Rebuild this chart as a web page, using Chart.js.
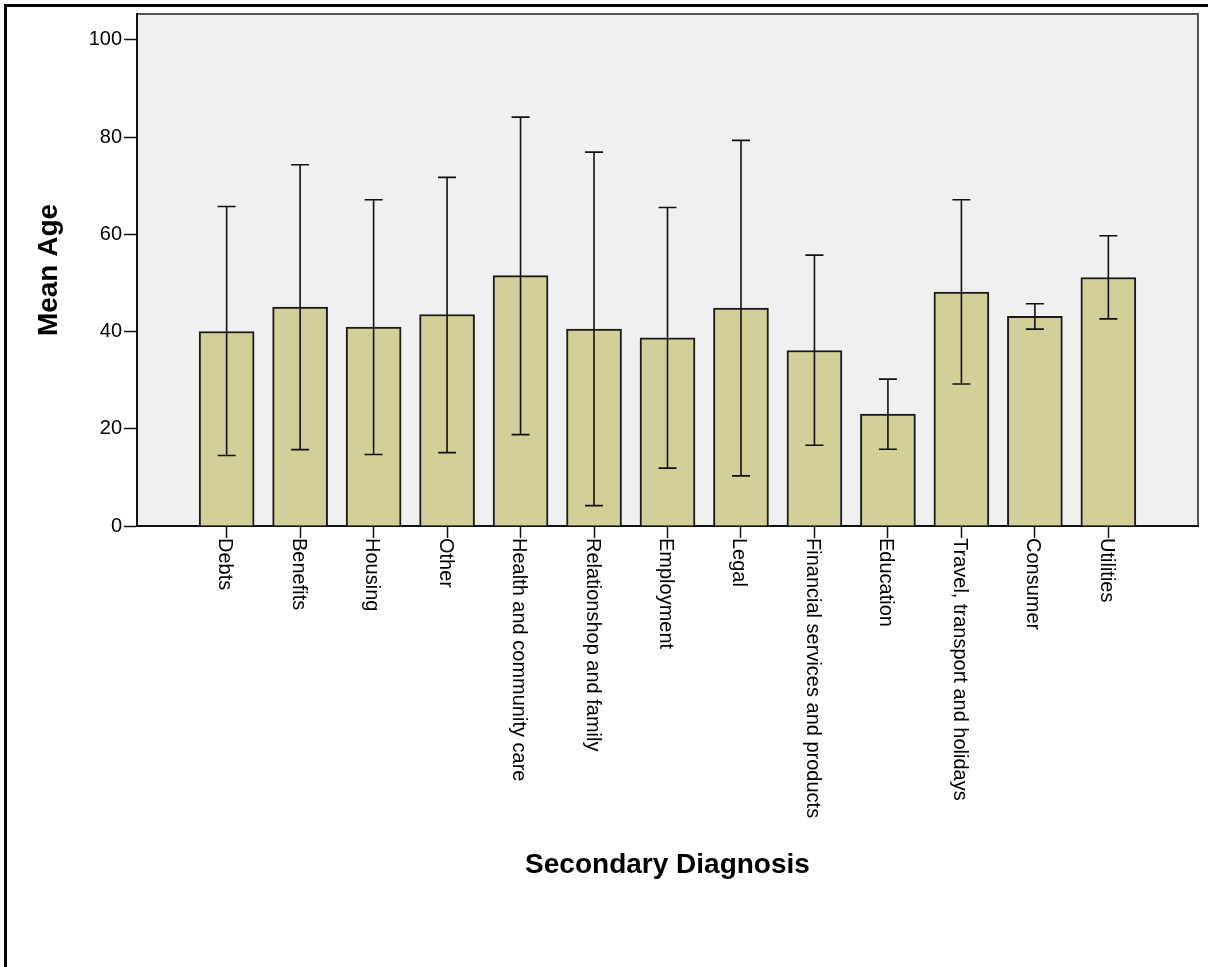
<!DOCTYPE html>
<html>
<head>
<meta charset="utf-8">
<script src="https://cdn.jsdelivr.net/npm/chart.js@4/dist/chart.umd.min.js"></script>
<style>
    body { margin: 0; background: #fff; }
    #myChartBar { display: block; }
</style>
</head>
<body>
<canvas id="myChartBar" width="1208" height="967"></canvas>
<script>
let categories = ['Debts', 'Benefits', 'Housing', 'Other', 'Health and community care', 'Relationshop and family',
    'Employment', 'Legal', 'Financial services and products', 'Education', 'Travel, transport and holidays',
    'Consumer', 'Utilities'];
let meanAge = [40.0, 45.0, 40.9, 43.5, 51.5, 40.5, 38.7, 44.8, 36.1, 23.0, 48.1, 43.1, 51.1];
let errLow = [14.5, 15.7, 14.7, 15.1, 18.8, 4.2, 11.9, 10.3, 16.6, 15.8, 29.2, 40.5, 42.6];
let errHigh = [65.7, 74.3, 67.1, 71.7, 84.1, 76.9, 65.5, 79.3, 55.7, 30.2, 67.1, 45.7, 59.7];
let yTicks = [0, 20, 40, 60, 80, 100];

let fontFamily = "'Liberation Sans', Arial, sans-serif";

// bars sit on a linear x scale so the frame can run past the first/last bar
let points = [];
for (let i in categories) {
    points.push({x: Number(i), y: meanAge[i]});
}

let frameAndBackground = {
    id: 'frameAndBackground',
    beforeDraw: function(chart) {
        let ctx = chart.ctx;
        let a = chart.chartArea;
        ctx.save();
        // outer page border (top and left only)
        ctx.fillStyle = '#000';
        ctx.fillRect(4, 4, chart.width - 4, 3);
        ctx.fillRect(4, 4, 3, chart.height - 4);
        // plot background
        ctx.fillStyle = '#f0f0f0';
        ctx.fillRect(a.left, a.top, a.right - a.left, a.bottom - a.top);
        ctx.strokeStyle = '#555';
        ctx.lineWidth = 2;
        ctx.strokeRect(a.left, a.top, a.right - a.left, a.bottom - a.top);
        ctx.restore();
    }
};

let errorBars = {
    id: 'errorBars',
    afterDatasetsDraw: function(chart) {
        let ctx = chart.ctx;
        let xs = chart.scales.x;
        let ys = chart.scales.y;
        ctx.save();
        ctx.strokeStyle = '#111';
        ctx.lineWidth = 1.6;
        for (let i = 0; i < categories.length; i++) {
            let x = xs.getPixelForValue(i);
            let lo = ys.getPixelForValue(errLow[i]);
            let hi = ys.getPixelForValue(errHigh[i]);
            ctx.beginPath();
            ctx.moveTo(x, lo);
            ctx.lineTo(x, hi);
            ctx.moveTo(x - 9, lo);
            ctx.lineTo(x + 9, lo);
            ctx.moveTo(x - 9, hi);
            ctx.lineTo(x + 9, hi);
            ctx.stroke();
        }
        ctx.restore();
    }
};

// rotated category labels, reading top to bottom
let xLabels = {
    id: 'xLabels',
    afterDraw: function(chart) {
        let ctx = chart.ctx;
        let xs = chart.scales.x;
        let y0 = chart.chartArea.bottom + 12;
        ctx.save();
        ctx.fillStyle = '#000';
        ctx.font = '20px ' + fontFamily;
        ctx.textAlign = 'left';
        ctx.textBaseline = 'middle';
        for (let i = 0; i < categories.length; i++) {
            ctx.save();
            ctx.translate(xs.getPixelForValue(i) - 2, y0);
            ctx.rotate(Math.PI / 2);
            ctx.fillText(categories[i], 0, 0);
            ctx.restore();
        }
        ctx.restore();
    }
};

let myChartBar = new Chart(document.getElementById('myChartBar'), {
    type: 'bar',
    data: {
        datasets: [{
            label: 'Mean Age',
            data: points,
            backgroundColor: '#d3cf99',
            borderColor: '#1a1a1a',
            borderWidth: 2,
            barThickness: 55
        }]
    },
    options: {
        responsive: false,
        devicePixelRatio: 1,
        animation: false,
        layout: {padding: {left: 0, right: 10, top: 14, bottom: 0}},
        plugins: {
            legend: {display: false},
            tooltip: {enabled: false}
        },
        scales: {
            x: {
                type: 'linear',
                offset: false,
                min: -1.22,
                max: 13.22,
                afterBuildTicks: function(scale) {
                    scale.ticks = categories.map(function(c, i) { return {value: i}; });
                },
                afterFit: function(scale) { scale.height = 441; },
                grid: {offset: false, drawOnChartArea: false, drawTicks: true, tickLength: 12, tickColor: '#111', tickWidth: 1.5},
                border: {display: true, color: '#111', width: 2},
                ticks: {display: false},
                title: {
                    display: true,
                    text: 'Secondary Diagnosis',
                    color: '#000',
                    font: {family: fontFamily, size: 28, weight: 'bold'},
                    padding: {top: 0, bottom: 85}
                }
            },
            y: {
                min: 0,
                max: 105.3,
                afterBuildTicks: function(scale) {
                    scale.ticks = yTicks.map(function(v) { return {value: v}; });
                },
                afterFit: function(scale) { scale.width = 137; },
                grid: {drawOnChartArea: false, drawTicks: true, tickLength: 13, tickColor: '#111', tickWidth: 1.5},
                border: {display: true, color: '#111', width: 2},
                ticks: {
                    color: '#000',
                    padding: 2,
                    font: {family: fontFamily, size: 20}
                },
                title: {
                    display: true,
                    text: 'Mean Age',
                    color: '#000',
                    font: {family: fontFamily, size: 28, weight: 'bold'},
                    padding: {top: 32, bottom: 0}
                }
            }
        }
    },
    plugins: [frameAndBackground, errorBars, xLabels]
});
</script>
</body>
</html>
